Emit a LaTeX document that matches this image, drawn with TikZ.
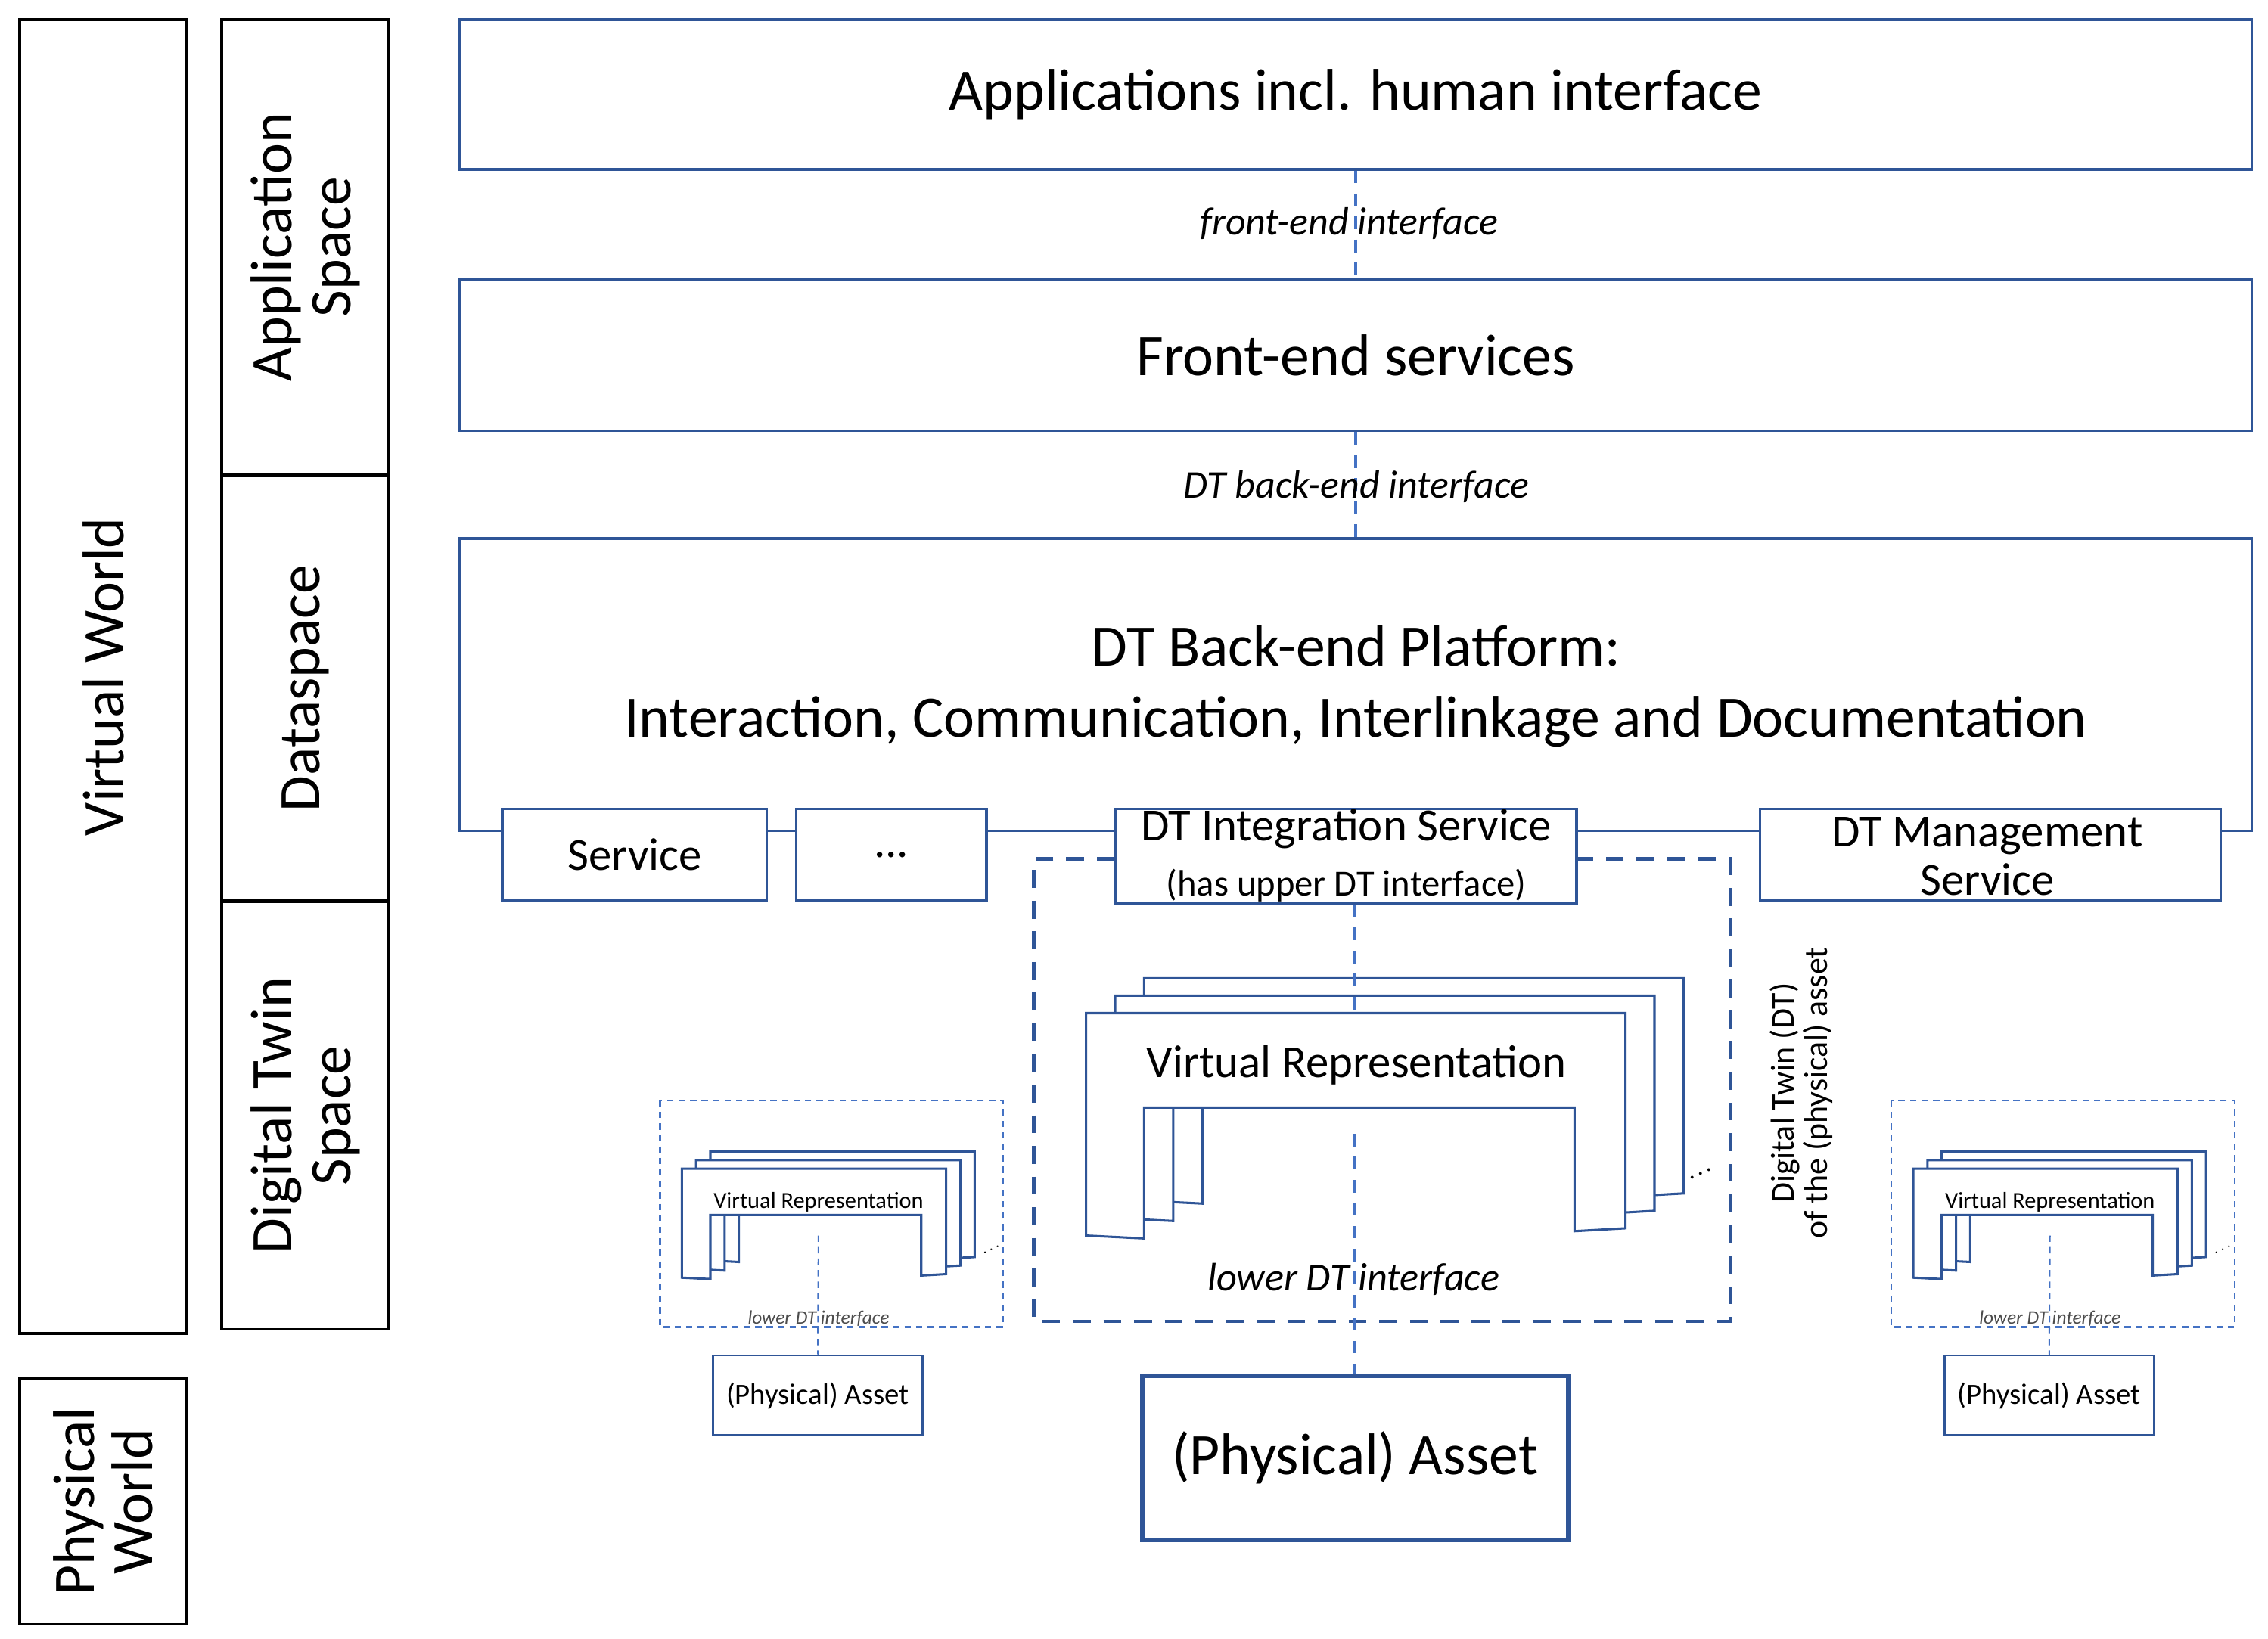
\documentclass[tikz,border=0pt]{standalone}
\usepackage{fontspec}
\setmainfont{Carlito}
\definecolor{bb}{HTML}{2F5597}
\definecolor{lb}{HTML}{4472C4}
\newcommand\fs[1]{\fontsize{#1}{#1}\selectfont}
\begin{document}
\begin{tikzpicture}[x=0.02cm,y=-0.02cm,
  box/.style={draw=bb,line width=1pt,fill=white,inner sep=0pt,align=center},
  side/.style={draw=black,line width=1pt,inner sep=0pt,align=center},
  dl/.style={draw=lb,dashed,line width=1pt,dash pattern=on 5pt off 4pt},
  vrstack/.pic={
    \foreach \dx/\dy in {40/-24,20/-12,0/0}{
      \draw[bb,line width=0.9pt,fill=white,shift={(\dx,\dy)}]
        (0,153)--(0,0)--(371,0)--(371,148)--(336,150)--(336,65)--(40,65)--(40,155)--cycle;}
  }]
\useasboundingbox (0,0) rectangle (1560,1127.5);
% left columns
\node[side,minimum width=2.3cm,minimum height=18.08cm] (vw) at (71,465.5) {};
\node[rotate=90,font=\fs{23}] at (vw) {Virtual World};
\node[side,minimum width=2.3cm,minimum height=3.38cm] (pw) at (71,1033) {};
\node[rotate=90,font=\fs{23},align=center] at (pw) {Physical\\World};
\node[side,minimum width=2.3cm,minimum height=6.26cm] (as) at (210,170) {};
\node[rotate=90,font=\fs{23},align=center] at (as) {Application\\Space};
\node[side,minimum width=2.3cm,minimum height=5.84cm] (ds) at (210,473.5) {};
\node[rotate=90,font=\fs{23}] at (ds) {Dataspace};
\node[side,minimum width=2.3cm,minimum height=5.88cm] (dts) at (210,767.5) {};
\node[rotate=90,font=\fs{23},align=center] at (dts) {Digital Twin\\Space};
% main boxes
\node[box,minimum width=24.66cm,minimum height=2.06cm,font=\fs{23}] (apps) at (932.5,65) {Applications incl. human interface};
\node[box,minimum width=24.66cm,minimum height=2.08cm,font=\fs{23}] (fe) at (932.5,244.5) {Front-end services};
\node[box,minimum width=24.66cm,minimum height=4.02cm] (be) at (932.5,471) {};
\node[font=\fs{23},align=center] at (932.5,472) {DT Back-end Platform:\\[5pt]Interaction, Communication, Interlinkage and Documentation};
\draw[dl] (apps.south) -- (fe.north);
\draw[dl] (fe.south) -- (be.north);
\node[font=\fs{15.4}\itshape] at (928,154) {front-end interface};
\node[font=\fs{15.4}\itshape] at (933,335) {DT back-end interface};
% service boxes
\node[box,minimum width=3.64cm,minimum height=1.26cm,font=\fs{18}] (svc) at (436.5,588) {Service};
\node[box,minimum width=2.62cm,minimum height=1.26cm,font=\fs{18}] (dots) at (613,588) {...};
\node[box,minimum width=6.34cm,minimum height=1.3cm] (dtis) at (926,589) {};
\node[font=\fs{18}] at (926,570) {DT Integration Service};
\node[font=\fs{14.4}] at (926,609) {(has upper DT interface)};
\node[box,minimum width=6.34cm,minimum height=1.26cm] (dtms) at (1369,588) {};
\node[font=\fs{18},align=center] at (1367,589) {DT Management\\[1pt]Service};
% big dashed DT box
\draw[bb,line width=1.4pt,dash pattern=on 7pt off 5pt] (dtis.west |- 0,591) -- (711,591) -- (711,909) -- (1190,909) -- (1190,591) -- (dtis.east |- 0,591);
\node[rotate=90,font=\fs{13},align=center] (dtlab) at (1239,752) {Digital Twin (DT)\\of the (physical) asset};
% stack
\pic at (747,697) {vrstack};
\node[font=\fs{18}] (vr) at (933,733) {Virtual Representation};
\node[font=\fs{11},rotate=25] at (1170,808) {$\cdot\!\cdot\!\cdot$};
\coordinate (vt) at (932,700);
\coordinate (vb) at (932,780);
\node[box,line width=1.8pt,minimum width=5.86cm,minimum height=2.26cm,font=\fs{23}] (pa) at (932,1003) {(Physical) Asset};
\draw[dl] (dtis.south -| pa.north) -- (vt);
\draw[dl] (vb) -- (pa.north);
\node[font=\fs{15.5}\itshape] at (931,880) {lower DT interface};
% small DTs
\foreach \ox/\nm in {0/l,847/r}{
  \begin{scope}[xshift=\ox*0.02cm]
  \draw[lb,line width=0.7pt,dash pattern=on 2.5pt off 2pt] (454,757) rectangle (690,913);
  \pic[scale=0.49] at (469,804) {vrstack};
  \node[font=\fs{9}] at (563,827) {Virtual Representation};
  \node[font=\fs{7.5}\itshape,text=black!70] at (563,907) {lower DT interface};
  \node[font=\fs{6},rotate=25] at (682,860) {$\cdot\!\cdot\!\cdot$};
  \node[draw=bb,line width=0.8pt,inner sep=0pt,minimum width=2.88cm,minimum height=1.1cm,font=\fs{11.5}] (sa\nm) at (562.5,960) {(Physical) Asset};
  \coordinate (st\nm) at (563,850);
  \draw[lb,line width=0.6pt,dash pattern=on 2.5pt off 2pt] (st\nm) -- (sa\nm.north);
  \end{scope}}
\end{tikzpicture}
\end{document}
